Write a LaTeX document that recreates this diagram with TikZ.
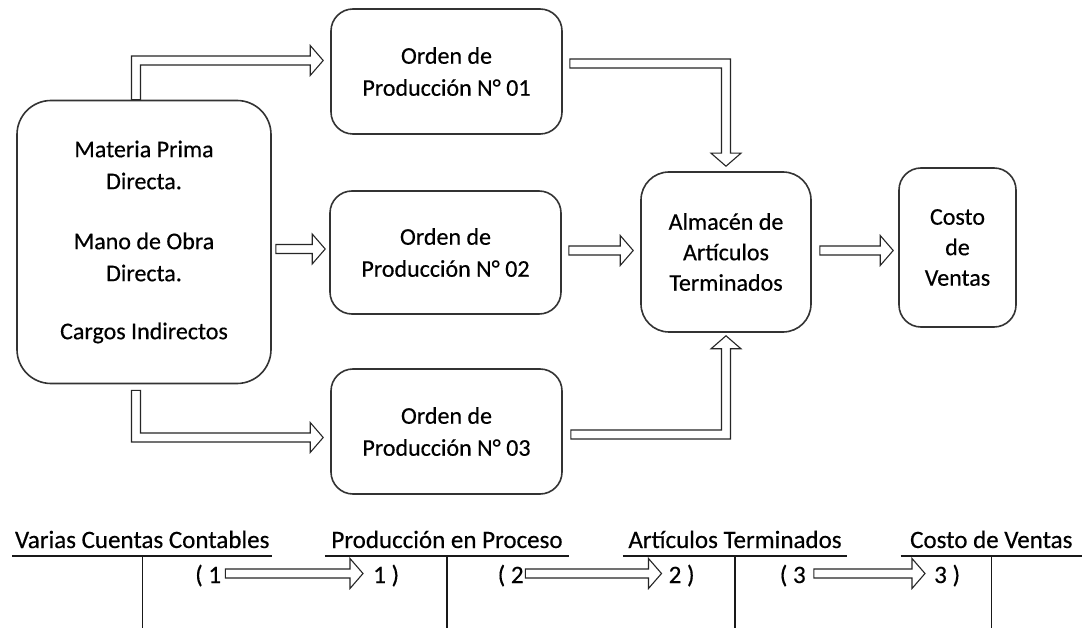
\documentclass[tikz,border=0pt]{standalone}
\usepackage{fontspec}
\setmainfont{Carlito}[UprightFeatures={FakeBold=0.4}]
\usetikzlibrary{calc}
\tikzset{
  x=1pt, y=-1pt,
  box/.style={draw=black!80, line width=1.6pt, rounded corners=#1, align=center, inner sep=0pt,
    font=\fontsize{24pt}{32pt}\selectfont},
  blockarrow/.style={draw=black!85, line width=1.1pt, fill=white, line join=miter},
  ttitle/.style={anchor=base, inner sep=0pt, font=\fontsize{25pt}{30pt}\selectfont},
  tlab/.style={anchor=base west, inner sep=0pt, font=\fontsize{25pt}{30pt}\selectfont},
  tline/.style={draw=black!90, line width=1.3pt}
}
% horizontal hollow arrow: from #1 (its y is used) to tip at x of #2
\newcommand\myHArr[2]{\draw[blockarrow] let \p1=(#1), \p2=(#2) in
  (\x1,\y1+4.5pt) -- (\x2-13pt,\y1+4.5pt) -- (\x2-13pt,\y1+15pt) -- (\x2,\y1)
  -- (\x2-13pt,\y1-15pt) -- (\x2-13pt,\y1-4.5pt) -- (\x1,\y1-4.5pt) -- cycle;}
% up then right
\newcommand\myUR[2]{\draw[blockarrow] let \p1=(#1), \p2=(#2) in
  (\x1-4.5pt,\y1) -- (\x1-4.5pt,\y2+4.5pt) -- (\x2-13pt,\y2+4.5pt) -- (\x2-13pt,\y2+15pt)
  -- (\x2,\y2) -- (\x2-13pt,\y2-15pt) -- (\x2-13pt,\y2-4.5pt) -- (\x1+4.5pt,\y2-4.5pt)
  -- (\x1+4.5pt,\y1) -- cycle;}
% down then right
\newcommand\myDR[2]{\draw[blockarrow] let \p1=(#1), \p2=(#2) in
  (\x1-4.5pt,\y1) -- (\x1-4.5pt,\y2-4.5pt) -- (\x2-13pt,\y2-4.5pt) -- (\x2-13pt,\y2-15pt)
  -- (\x2,\y2) -- (\x2-13pt,\y2+15pt) -- (\x2-13pt,\y2+4.5pt) -- (\x1+4.5pt,\y2+4.5pt)
  -- (\x1+4.5pt,\y1) -- cycle;}
% right then down
\newcommand\myRD[2]{\draw[blockarrow] let \p1=(#1), \p2=(#2) in
  (\x1,\y1+4.5pt) -- (\x2+4.5pt,\y1+4.5pt) -- (\x2+4.5pt,\y2+13pt) -- (\x2+15pt,\y2+13pt)
  -- (\x2,\y2) -- (\x2-15pt,\y2+13pt) -- (\x2-4.5pt,\y2+13pt) -- (\x2-4.5pt,\y1-4.5pt)
  -- (\x1,\y1-4.5pt) -- cycle;}
% right then up
\newcommand\myRU[2]{\draw[blockarrow] let \p1=(#1), \p2=(#2) in
  (\x1,\y1-4.5pt) -- (\x2+4.5pt,\y1-4.5pt) -- (\x2+4.5pt,\y2-13pt) -- (\x2+15pt,\y2-13pt)
  -- (\x2,\y2) -- (\x2-15pt,\y2-13pt) -- (\x2-4.5pt,\y2-13pt) -- (\x2-4.5pt,\y1+4.5pt)
  -- (\x1,\y1+4.5pt) -- cycle;}
\begin{document}
\begin{tikzpicture}
\useasboundingbox[fill=white] (0,0) rectangle (1082,628);

% boxes
\node[box=34pt, minimum width=254pt, minimum height=283pt] (left) at (144,242)
  {Materia Prima\\Directa.\\[28pt]Mano de Obra\\Directa.\\[26pt]Cargos Indirectos};
\node[box=22pt, minimum width=231pt, minimum height=125pt] (o1) at (446.5,71.5)
  {Orden de\\Producción N° 01};
\node[box=22pt, minimum width=231pt, minimum height=123pt] (o2) at (445.5,252.5)
  {Orden de\\Producción N° 02};
\node[box=22pt, minimum width=231pt, minimum height=125pt] (o3) at (446.5,431.5)
  {Orden de\\Producción N° 03};
\node[box=28pt, minimum width=170pt, minimum height=160pt,
  font=\fontsize{24pt}{30.5pt}\selectfont] (alm) at (726,252)
  {Almacén de\\Artículos\\Terminados};
\node[box=22pt, minimum width=117pt, minimum height=159pt,
  font=\fontsize{24pt}{30.5pt}\selectfont] (costo) at (957.5,247.5)
  {Costo\\de\\Ventas};

% arrows
\myUR{$(left.north)+(-8,0)$}{$(o1.west)+(-7,-11)$}
\myHArr{$(left.east)+(4,7)$}{$(o2.west)+(-4,0)$}
\myDR{$(left.south)+(-8,6)$}{$(o3.west)+(-7,6)$}
\myRD{$(o1.east)+(7,-8)$}{$(alm.north)+(0,-5)$}
\myHArr{$(o2.east)+(7,-2)$}{$(alm.west)+(-7,0)$}
\myRU{$(o3.east)+(8,3)$}{$(alm.south)+(0,3)$}
\myHArr{$(alm.east)+(8,-1.5)$}{$(costo.west)+(-5,0)$}

% T accounts
\node[ttitle, minimum width=260pt] (t1) at (142.25,548) {Varias Cuentas Contables};
\node[ttitle, minimum width=244pt] (t2) at (447,548) {Producción en Proceso};
\node[ttitle, minimum width=224pt] (t3) at (735,548) {Artículos Terminados};
\node[ttitle, minimum width=181pt] (t4) at (991.3,548) {Costo de Ventas};
\foreach \t in {t1,t2,t3,t4}{
  \draw[tline] ($(\t.base west)+(0,8)$) -- ($(\t.base east)+(0,8)$);
  \draw[tline] ($(\t.base)+(0,8)$) -- ++(0,72);
}

\node[tlab] (a1) at (195,583) {( 1};
\node[tlab] (b1) at (373,583) {1 )};
\node[tlab] (a2) at (497.5,583) {( 2};
\node[tlab] (b2) at (668.5,583) {2 )};
\node[tlab] (a3) at (779.6,583) {( 3};
\node[tlab] (b3) at (934,583) {3 )};
\myHArr{$(a1.base east)+(4,-9.5)$}{$(b1.base west)+(-10,0)$}
\myHArr{$(a2.base east)+(1.5,-9.5)$}{$(b2.base west)+(-7,0)$}
\myHArr{$(a3.base east)+(8,-9.5)$}{$(b3.base west)+(-9,0)$}
\end{tikzpicture}
\end{document}
